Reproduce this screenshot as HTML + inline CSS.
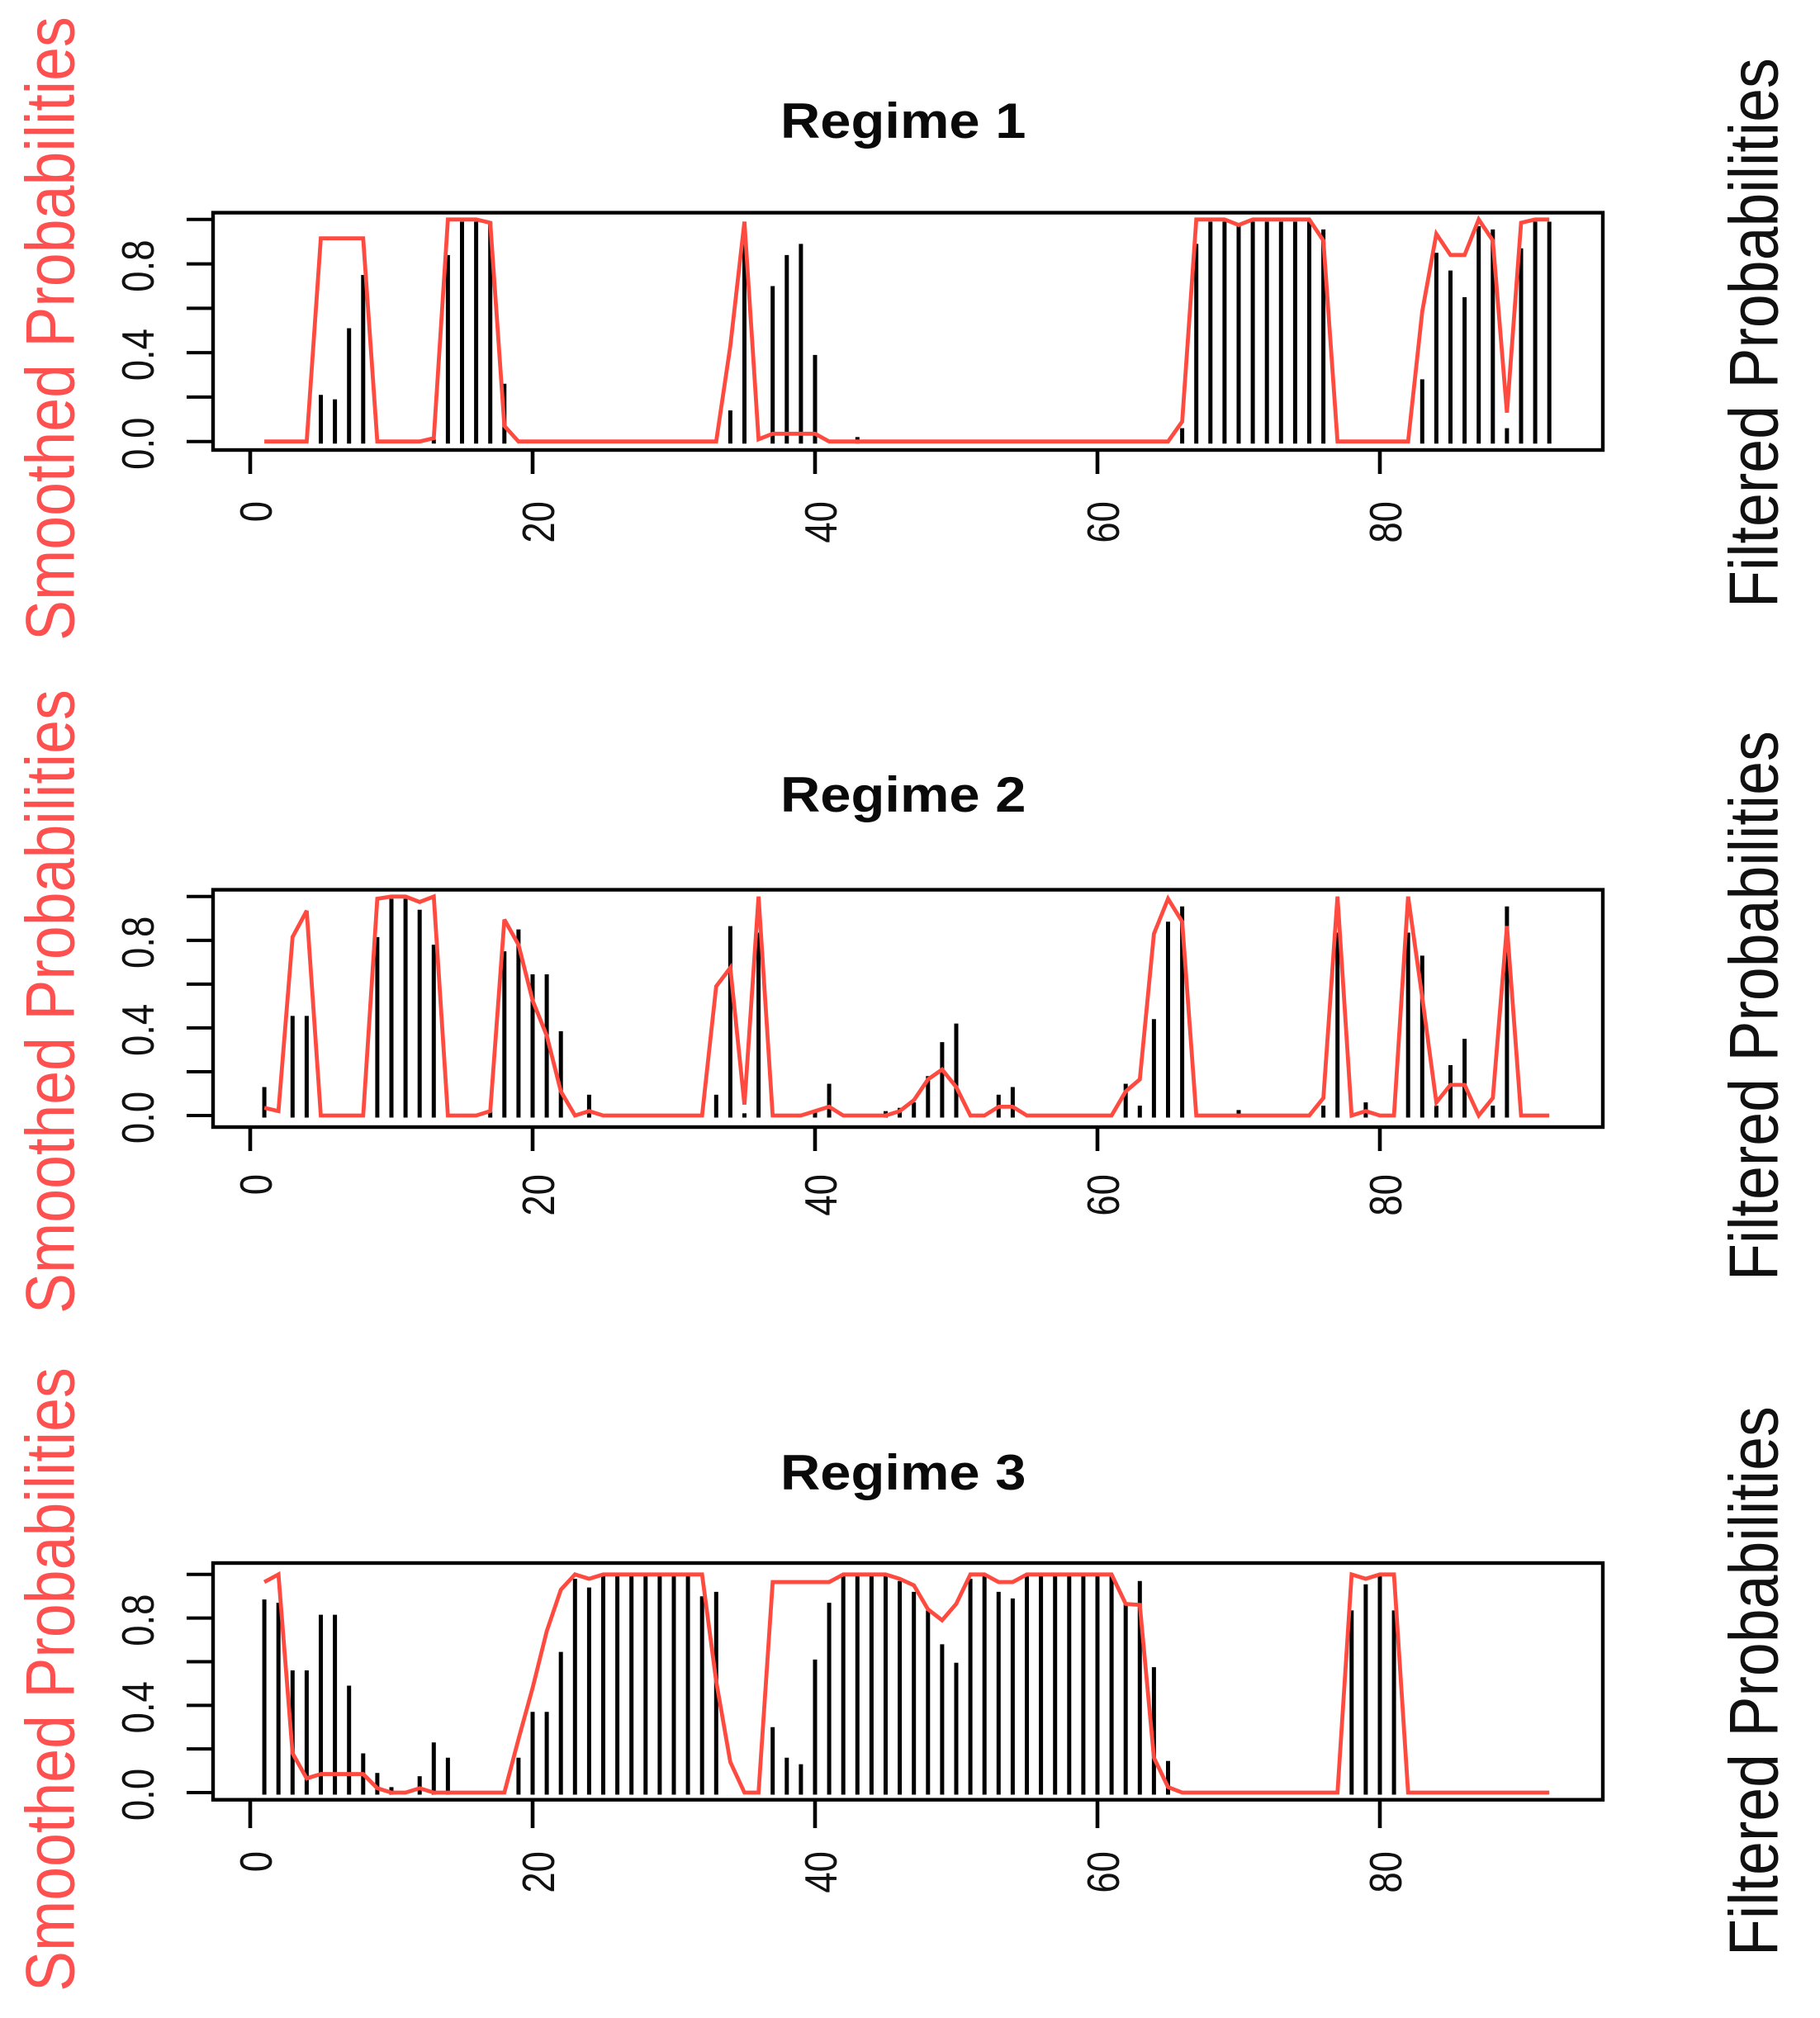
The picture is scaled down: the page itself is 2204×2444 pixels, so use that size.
<!DOCTYPE html>
<html>
<head>
<meta charset="utf-8">
<title>Regime probabilities</title>
<style>
html,body{margin:0;padding:0;background:#fff;}
svg{display:block;}
text{font-family:"Liberation Sans",sans-serif;}
.title{font-weight:bold;font-size:60px;fill:#0a0a0a;}
.lab{font-size:73.5px;}
.tick{font-size:45.5px;fill:#111;}
</style>
</head>
<body>
<svg id="chart" xmlns="http://www.w3.org/2000/svg" width="2204" height="2444" viewBox="0 0 2204 2444">
  <rect x="0" y="0" width="2204" height="2444" fill="#ffffff"/>
  <g id="panel-0">
    <text class="title" transform="translate(945,167) scale(1.115,1)">Regime 1</text>
    <text class="lab" fill="#ff5050" transform="translate(89.5,776) rotate(-90) scale(1,1.14)">Smoothed Probabilities</text>
    <text class="lab" fill="#111111" transform="translate(2152.5,736) rotate(-90) scale(1,1.14)">Filtered Probabilities</text>
  </g>
  <g id="panel-1">
    <text class="title" transform="translate(945,983) scale(1.115,1)">Regime 2</text>
    <text class="lab" fill="#ff5050" transform="translate(89.5,1591) rotate(-90) scale(1,1.14)">Smoothed Probabilities</text>
    <text class="lab" fill="#111111" transform="translate(2152.5,1551) rotate(-90) scale(1,1.14)">Filtered Probabilities</text>
  </g>
  <g id="panel-2">
    <text class="title" transform="translate(945,1804) scale(1.115,1)">Regime 3</text>
    <text class="lab" fill="#ff5050" transform="translate(89.5,2412) rotate(-90) scale(1,1.14)">Smoothed Probabilities</text>
    <text class="lab" fill="#111111" transform="translate(2152.5,2369) rotate(-90) scale(1,1.14)">Filtered Probabilities</text>
  </g>
</svg>
<script>
const xTickValues = [0, 20, 40, 60, 80];
const xTickLabels = ["0", "20", "40", "60", "80"];
const yTickValues = [0, 0.2, 0.4, 0.6, 0.8, 1];
const yLabelValues = [0, 0.4, 0.8];
const yTickLabels = ["0.0", "0.4", "0.8"];

const filtered1 = [
0,0,0,0,.21,.19,.51,.75,0,0,
0,0,.01,.84,.99,.99,.99,.26,0,0,
0,0,0,0,0,0,0,0,0,0,
0,0,0,.14,.99,0,.70,.84,.89,.39,
0,0,.02,0,0,0,0,0,0,0,
0,0,0,0,0,0,0,0,0,0,
0,0,0,0,0,.06,.89,.99,.99,.98,
.99,.99,.99,.99,.99,.955,0,0,0,0,
0,0,.28,.85,.77,.65,.97,.955,.06,.87,
.99,.99];
const smoothed1 = [
0,0,0,0,.915,.915,.915,.915,0,0,
0,0,.015,1,1,1,.985,.07,0,0,
0,0,0,0,0,0,0,0,0,0,
0,0,0,.43,.99,.01,.035,.035,.035,.035,
0,0,0,0,0,0,0,0,0,0,
0,0,0,0,0,0,0,0,0,0,
0,0,0,0,0,.09,1,1,1,.975,
1,1,1,1,1,.905,0,0,0,0,
0,0,.585,.935,.84,.84,1,.905,.13,.985,
1,1];

const filtered2 = [
.13,0,.455,.455,0,0,0,0,.815,.99,
.99,.94,.78,0,0,0,.02,.75,.85,.645,
.645,.385,0,.095,0,0,0,0,0,0,
0,0,.095,.865,.01,.835,0,0,0,.02,
.145,0,0,0,.02,.035,.06,.18,.335,.42,
0,0,.095,.13,0,0,0,0,0,0,
0,.145,.045,.44,.885,.955,0,0,0,.025,
0,0,0,0,0,.045,.835,0,.06,0,
0,.835,.73,.045,.23,.35,0,.045,.955,0,
0,0];
const smoothed2 = [
.035,.02,.815,.935,0,0,0,0,.99,1,
1,.975,1,0,0,0,.02,.895,.78,.525,
.365,.11,0,.02,0,0,0,0,0,0,
0,0,.59,.675,.05,1,0,0,0,.02,
.04,0,0,0,0,.02,.07,.165,.21,.13,
0,0,.04,.04,0,0,0,0,0,0,
0,.11,.165,.83,.99,.885,0,0,0,0,
0,0,0,0,0,.08,1,0,.02,0,
0,1,.54,.06,.14,.14,0,.08,.865,0,
0,0];

const filtered3 = [
.885,.87,.56,.56,.815,.815,.49,.18,.09,.025,
0,.075,.23,.16,0,0,0,0,.16,.37,
.37,.645,.98,.94,1,1,1,1,1,1,
1,.9,.92,0,0,0,.30,.16,.13,.61,
.87,1,1,1,1,.97,.92,.835,.68,.595,
.98,.995,.92,.89,1,1,1,1,1,1,
1,.87,.97,.575,.145,0,0,0,0,0,
0,0,0,0,0,0,0,.835,.955,.995,
.835,0,0,0,0,0,0,0,0,0,
0,0];
const smoothed3 = [
.965,1,.18,.065,.085,.085,.085,.085,.02,0,
0,.02,0,0,0,0,0,0,.245,.48,
.74,.93,1,.98,1,1,1,1,1,1,
1,1,.51,.14,0,0,.965,.965,.965,.965,
.965,1,1,1,1,.98,.95,.84,.79,.865,
1,1,.965,.965,1,1,1,1,1,1,
1,.865,.86,.16,.025,0,0,0,0,0,
0,0,0,0,0,0,0,1,.98,1,
1,0,0,0,0,0,0,0,0,0,
0,0];

const filteredSeries = [filtered1, filtered2, filtered3];
const smoothedSeries = [smoothed1, smoothed2, smoothed3];

const SVGNS = "http://www.w3.org/2000/svg";
const frames = [
  {boxTop:257.6, boxBottom:545, y0:534.7, y1:265.8, tickEnd:574, labelEnd:607},
  {boxTop:1077.6, boxBottom:1365, y0:1351, y1:1085.8, tickEnd:1394, labelEnd:1422},
  {boxTop:1893, boxBottom:2179.7, y0:2171, y1:1906.8, tickEnd:2214, labelEnd:2242}
];
const boxLeft = 258, boxRight = 1941;

function xScale(t){ return 303 + 17.1 * t; }
function yScale(f, v){ return f.y0 - v * (f.y0 - f.y1); }
function mk(tag, parent, attrs){
  const el = document.createElementNS(SVGNS, tag);
  for (const k in attrs) el.setAttribute(k, attrs[k]);
  parent.appendChild(el);
  return el;
}

frames.forEach(function(f, p){
  const g = document.getElementById("panel-" + p);
  const filtered = filteredSeries[p];
  const smoothed = smoothedSeries[p];

  filtered.forEach(function(v, i){
    if (v <= 0) return;
    const x = xScale(i + 1);
    const bar = mk("line", g, {x1:x, x2:x, y1:f.y0 + 2.5, y2:yScale(f, v), stroke:"#000", "stroke-width":5});
    
    
  });

  const pts = smoothed.map(function(v, i){ return xScale(i + 1) + "," + yScale(f, v); }).join(" ");
  const line = mk("polyline", g, {points:pts, fill:"none", stroke:"#ff4a40", "stroke-width":4.8, "stroke-linejoin":"miter", "stroke-miterlimit":3});
  
  

  const box = mk("rect", g, {x:boxLeft, y:f.boxTop, width:boxRight - boxLeft, height:f.boxBottom - f.boxTop, fill:"none", stroke:"#000", "stroke-width":4.4});
  
  

  xTickValues.forEach(function(v, i){
    const x = xScale(v);
    const tick = mk("line", g, {x1:x, x2:x, y1:f.boxBottom, y2:f.tickEnd, stroke:"#000", "stroke-width":4.6});
    
    
    const label = mk("text", g, {"class":"tick", "text-anchor":"end", transform:"translate(" + (x + 26) + "," + f.labelEnd + ") rotate(-90) scale(1,1.2)"});
    label.textContent = xTickLabels[i];
    
    
  });

  yTickValues.forEach(function(v){
    const y = yScale(f, v);
    const tick = mk("line", g, {x1:226, x2:boxLeft, y1:y, y2:y, stroke:"#000", "stroke-width":4});
    
    
  });

  yLabelValues.forEach(function(v, i){
    const y = yScale(f, v) + 2.5;
    const label = mk("text", g, {"class":"tick", "text-anchor":"middle", transform:"translate(186," + y + ") rotate(-90) scale(1,1.2)"});
    label.textContent = yTickLabels[i];
    
    
  });
});
</script>
</body>
</html>
